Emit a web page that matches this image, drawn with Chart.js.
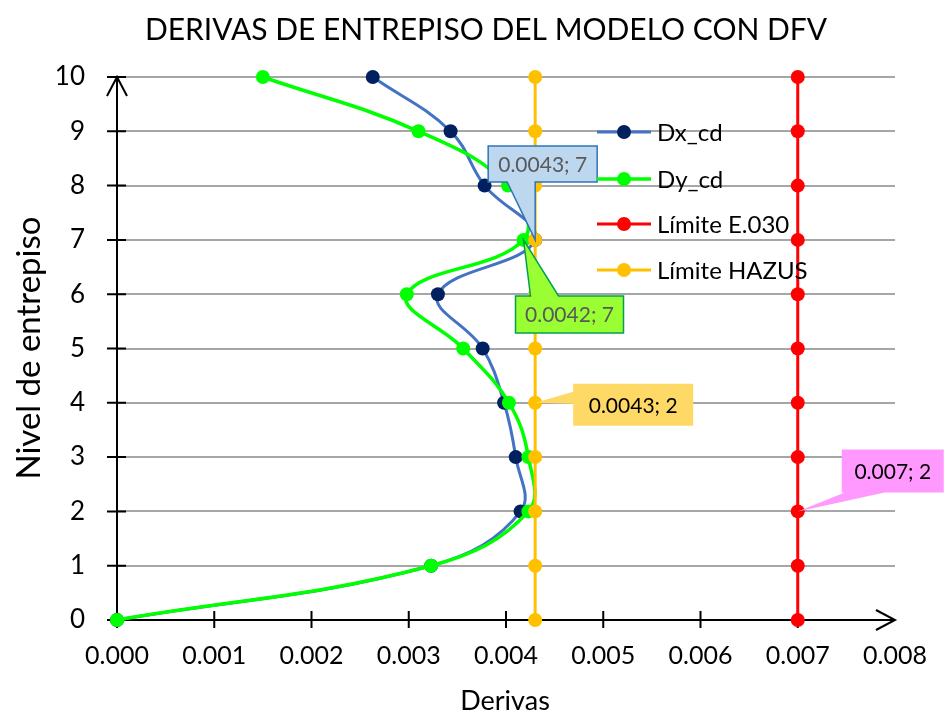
<!DOCTYPE html>
<html><head><meta charset="utf-8">
<script src="https://cdn.jsdelivr.net/npm/chart.js@4/dist/chart.umd.min.js"></script>
<style>html,body{margin:0;padding:0;background:#fff}#wrap{width:944px;height:715px}</style>
</head><body><div id="wrap"><canvas id="c" width="944" height="715"></canvas></div>
<script>
const levels = [0, 1, 2, 3, 4, 5, 6, 7, 8, 9, 10];
const dxCd = [0, 0.00323, 0.00415, 0.00410, 0.00398, 0.00376, 0.00330, 0.00430, 0.00378, 0.00343, 0.00263];
const dyCd = [0, 0.00323, 0.00423, 0.00423, 0.00403, 0.00356, 0.00298, 0.00418, 0.00402, 0.00310, 0.00150];
const limE030 = [0.007, 0.007, 0.007, 0.007, 0.007, 0.007, 0.007, 0.007, 0.007, 0.007, 0.007];
const limHazus = [0.0043, 0.0043, 0.0043, 0.0043, 0.0043, 0.0043, 0.0043, 0.0043, 0.0043, 0.0043, 0.0043];
const xTickLabels = ['0.000', '0.001', '0.002', '0.003', '0.004', '0.005', '0.006', '0.007', '0.008'];
const yTickLabels = ['0', '1', '2', '3', '4', '5', '6', '7', '8', '9', '10'];
const seriesNames = ['Dx_cd', 'Dy_cd', 'Límite E.030', 'Límite HAZUS'];
const titleText = 'DERIVAS DE ENTREPISO DEL MODELO CON DFV';
const xTitle = 'Derivas';
const yTitle = 'Nivel de entrepiso';
const calloutTexts = ['0.0043; 7', '0.0042; 7', '0.0043; 2', '0.007; 2'];

const FONT = 'Lato, "Open Sans", sans-serif';
const pts = (xs) => xs.map((x, i) => ({x: x, y: levels[i]}));

const styles = [
  {line: '#4472C4', mark: '#002060', w: 3},
  {line: '#00FF00', mark: '#00FF00', w: 3.5},
  {line: '#FF0000', mark: '#FF0000', w: 3},
  {line: '#FFC000', mark: '#FFC000', w: 3}
];
const seriesData = [dxCd, dyCd, limE030, limHazus];
const orders = [4, 3, 2, 1];

const datasets = seriesData.map((d, i) => ({
  label: seriesNames[i],
  data: pts(d),
  showLine: true,
  borderColor: styles[i].line,
  borderWidth: styles[i].w,
  backgroundColor: styles[i].mark,
  pointBackgroundColor: styles[i].mark,
  pointBorderColor: styles[i].mark,
  pointBorderWidth: 0,
  pointRadius: 7,
  tension: i < 2 ? 0.4 : 0,
  clip: false,
  order: orders[i]
}));

const callouts = [
  {ds: 0, idx: 7, text: calloutTexts[0], fill: '#BDD7EE', stroke: '#2E75B6', color: '#595959',
   box: [-47, -94, 62, -58], wedge: {side: 'bottom', a: -28, b: 0}},
  {ds: 1, idx: 7, text: calloutTexts[1], fill: '#99FF33', stroke: '#00A050', color: '#595959',
   box: [-8, 56, 100, 93], wedge: {side: 'top', a: 7, b: 35}},
  {ds: 3, idx: 4, text: calloutTexts[2], fill: '#FFD966', stroke: null, color: '#000000',
   box: [38, -19, 158, 23], wedge: {side: 'left', a: -11, b: 1}},
  {ds: 2, idx: 2, text: calloutTexts[3], fill: '#FF99FF', stroke: null, color: '#000000',
   box: [44, -62, 146, -19], wedge: {side: 'bottom', a: 47, b: 87}}
];

function drawCallout(ctx, ax, ay, c) {
  const L = ax + c.box[0], T = ay + c.box[1], R = ax + c.box[2], B = ay + c.box[3];
  const w = c.wedge;
  const p = [];
  p.push([L, T]);
  if (w.side === 'top') { p.push([ax + w.a, T]); p.push([ax, ay]); p.push([ax + w.b, T]); }
  p.push([R, T]);
  p.push([R, B]);
  if (w.side === 'bottom') { p.push([ax + w.b, B]); p.push([ax, ay]); p.push([ax + w.a, B]); }
  p.push([L, B]);
  if (w.side === 'left') { p.push([L, ay + w.b]); p.push([ax, ay]); p.push([L, ay + w.a]); }
  ctx.save();
  ctx.beginPath();
  p.forEach((q, i) => i ? ctx.lineTo(q[0], q[1]) : ctx.moveTo(q[0], q[1]));
  ctx.closePath();
  ctx.fillStyle = c.fill;
  ctx.fill();
  if (c.stroke) { ctx.strokeStyle = c.stroke; ctx.lineWidth = 1.5; ctx.stroke(); }
  ctx.fillStyle = c.color;
  ctx.font = '21px ' + FONT;
  ctx.textAlign = 'center';
  ctx.textBaseline = 'middle';
  ctx.fillText(c.text, (L + R) / 2, (T + B) / 2 + 1);
  ctx.restore();
}

const decor = {
  id: 'decor',
  beforeDatasetsDraw(chart) {
    const ctx = chart.ctx, xs = chart.scales.x, ys = chart.scales.y;
    const x0 = xs.getPixelForValue(0), y0 = ys.getPixelForValue(0);
    const xEnd = xs.getPixelForValue(0.008), yEnd = ys.getPixelForValue(10);
    ctx.save();
    ctx.strokeStyle = '#000';
    ctx.lineWidth = 2;
    ctx.beginPath();
    ctx.moveTo(x0, y0); ctx.lineTo(x0, yEnd);
    ctx.moveTo(x0, y0); ctx.lineTo(xEnd, y0);
    ctx.moveTo(x0 - 10, yEnd + 19); ctx.lineTo(x0, yEnd); ctx.lineTo(x0 + 10, yEnd + 19);
    ctx.moveTo(xEnd - 19, y0 - 10); ctx.lineTo(xEnd, y0); ctx.lineTo(xEnd - 19, y0 + 10);
    ys.ticks.forEach(t => { const y = ys.getPixelForValue(t.value); ctx.moveTo(x0 - 10, y); ctx.lineTo(x0 + 9, y); });
    xs.ticks.forEach(t => { if (t.value >= 0.0075) return; const x = xs.getPixelForValue(t.value); ctx.moveTo(x, y0 - 9); ctx.lineTo(x, y0 + 8); });
    ctx.stroke();
    ctx.restore();
  },
  afterDatasetsDraw(chart) {
    const ctx = chart.ctx;
    callouts.forEach(c => {
      const el = chart.getDatasetMeta(c.ds).data[c.idx];
      drawCallout(ctx, el.x, el.y, c);
    });
    const rows = [132, 179, 224, 270];
    ctx.save();
    ctx.font = '24px ' + FONT;
    ctx.textBaseline = 'middle';
    ctx.textAlign = 'left';
    seriesNames.forEach((n, i) => {
      const y = rows[i];
      ctx.strokeStyle = styles[i].line; ctx.lineWidth = styles[i].w;
      ctx.beginPath(); ctx.moveTo(597, y); ctx.lineTo(651, y); ctx.stroke();
      ctx.fillStyle = styles[i].mark;
      ctx.beginPath(); ctx.arc(624, y, 7, 0, Math.PI * 2); ctx.fill();
      ctx.fillStyle = '#000';
      ctx.fillText(n, 657, y + 1);
    });
    ctx.textAlign = 'center';
    ctx.fillStyle = '#000';
    ctx.font = '30px ' + FONT;
    ctx.fillText(titleText, 486, 30);
    ctx.font = '27px ' + FONT;
    ctx.fillText(xTitle, 505, 701);
    ctx.save();
    ctx.translate(29, 348);
    ctx.rotate(-Math.PI / 2);
    ctx.font = '33px ' + FONT;
    ctx.fillText(yTitle, 0, 0);
    ctx.restore();
    ctx.restore();
  }
};

new Chart(document.getElementById('c'), {
  type: 'scatter',
  data: {datasets: datasets},
  options: {
    responsive: false,
    animation: false,
    devicePixelRatio: 1,
    layout: {padding: {top: 77, right: 49, left: 0, bottom: 0}},
    plugins: {legend: {display: false}, title: {display: false}, tooltip: {enabled: false}},
    scales: {
      x: {
        type: 'linear', min: 0, max: 0.008,
        afterFit(s) { s.height = 95; s.paddingLeft = 0; s.paddingRight = 0; },
        grid: {display: false, drawTicks: false},
        border: {display: false},
        ticks: {stepSize: 0.001, padding: 21, maxRotation: 0, autoSkip: false,
          callback: (v, i) => xTickLabels[i], color: '#000', font: {family: FONT, size: 25}}
      },
      y: {
        type: 'linear', min: 0, max: 10,
        afterFit(s) { s.width = 117; s.paddingTop = 0; s.paddingBottom = 0; },
        grid: {color: '#A6A6A6', lineWidth: 2, drawTicks: false},
        border: {display: false},
        ticks: {stepSize: 1, padding: 32, autoSkip: false,
          callback: (v, i) => yTickLabels[i], color: '#000', font: {family: FONT, size: 26}}
      }
    }
  },
  plugins: [decor]
});
</script></body></html>
